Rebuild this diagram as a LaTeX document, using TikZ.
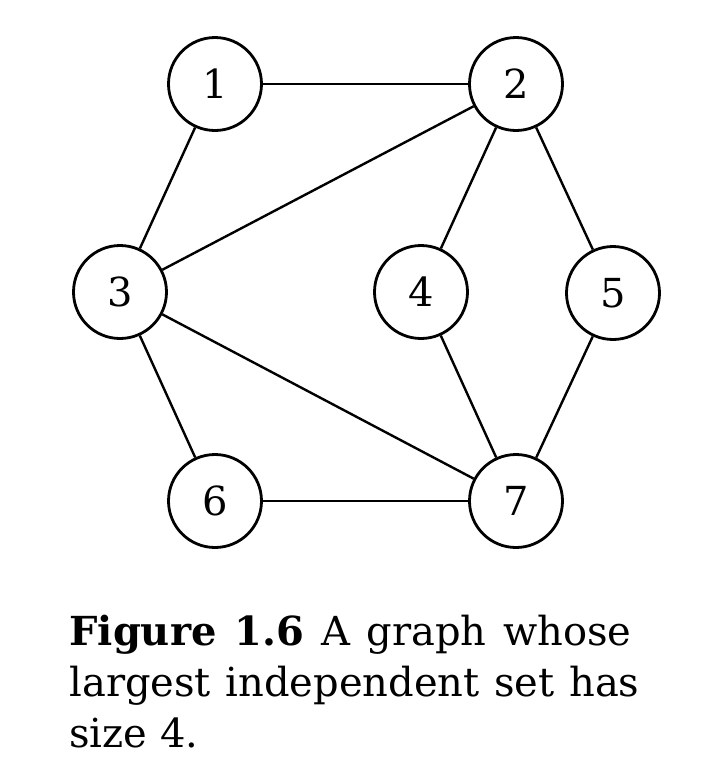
\documentclass[tikz,border=0pt]{standalone}
\usepackage{fontspec}
\setmainfont{DejaVu Serif}
\begin{document}
\begin{tikzpicture}[x=0.5pt,y=-0.5pt,
  vertex/.style={circle,draw,line width=1.4pt,minimum size=46.5pt,inner sep=0pt,
    font=\fontsize{20pt}{24pt}\selectfont},
  link/.style={line width=1.2pt},
  caption/.style={anchor=base west,inner sep=0pt,text width=285pt,align=justify,
    font=\fontsize{20pt}{25.5pt}\selectfont}]
  \useasboundingbox (0,0) rectangle (720,784);
  % vertices
  \node[vertex] (n1) at (215,84) {1};
  \node[vertex] (n2) at (516,84) {2};
  \node[vertex] (n3) at (120,292) {3};
  \node[vertex] (n4) at (421,292) {4};
  \node[vertex] (n5) at (613,293) {5};
  \node[vertex] (n6) at (215,501) {6};
  \node[vertex] (n7) at (516,501) {7};
  % edges
  \draw[link] (n1) -- (n2);
  \draw[link] (n1) -- (n3);
  \draw[link] (n2) -- (n3);
  \draw[link] (n2) -- (n4);
  \draw[link] (n2) -- (n5);
  \draw[link] (n3) -- (n6);
  \draw[link] (n3) -- (n7);
  \draw[link] (n4) -- (n7);
  \draw[link] (n5) -- (n7);
  \draw[link] (n6) -- (n7);
  % caption
  \node[caption] (cap) at (69,645) {\hyphenpenalty=10000
    \textbf{Figure 1.6} A graph whose\hskip 4pt\mbox{}\linebreak
    largest independent set has\linebreak
    size 4.};
\end{tikzpicture}
\end{document}
